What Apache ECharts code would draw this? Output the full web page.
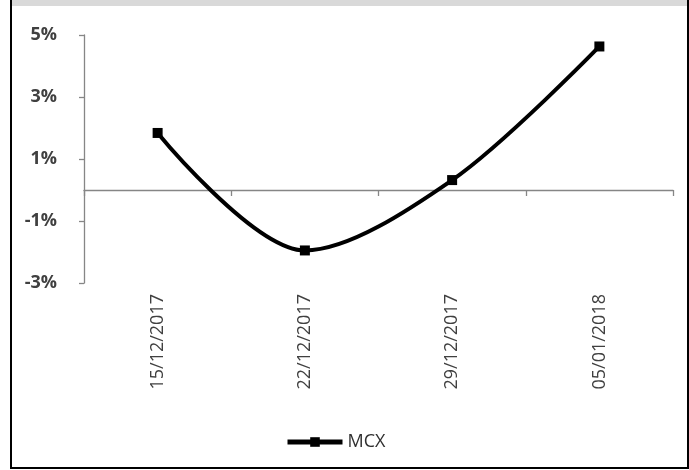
<!DOCTYPE html>
<html>
<head>
<meta charset="utf-8">
<script src="https://cdn.jsdelivr.net/npm/echarts@6/dist/echarts.min.js"></script>
<style>
html,body{margin:0;padding:0;background:#fff;}
#c{width:689px;height:470px;}
</style>
</head>
<body>
<div id="c"></div>
<script>
var categories = ['15/12/2017', '22/12/2017', '29/12/2017', '05/01/2018'];
var seriesName = 'MCX';
var mcxValues = [1.84, -1.95, 0.32, 4.63];
var yMin = -3, yMax = 5, yInterval = 2;

var chart = echarts.init(document.getElementById('c'), null, {renderer: 'canvas'});
var FONT = '"Open Sans", "Noto Sans", sans-serif';
var AXIS = '#868686';
var TXT = '#404040';

chart.setOption({
  animation: false,
  backgroundColor: '#ffffff',
  grid: {left: 84, right: 16, top: 35, bottom: 187, containLabel: false},
  legend: {
    data: [seriesName],
    left: 285, top: 433,
    itemWidth: 55, itemHeight: 12, itemGap: 10,
    lineStyle: {width: 5},
    textStyle: {fontFamily: FONT, fontSize: 18, color: '#303030', padding: [0,0,0,0]},
    padding: 0
  },
  graphic: [
    {type: 'rect', shape: {x: 12, y: 0, width: 675, height: 6}, style: {fill: '#d9d9d9'}, silent: true, z: 100},
    {type: 'rect', shape: {x: 10, y: 0, width: 2, height: 469}, style: {fill: '#000'}, silent: true, z: 101},
    {type: 'rect', shape: {x: 687, y: 0, width: 2, height: 469}, style: {fill: '#000'}, silent: true, z: 101},
    {type: 'rect', shape: {x: 10, y: 467, width: 679, height: 2}, style: {fill: '#000'}, silent: true, z: 101}
  ],
  xAxis: [
    {
      type: 'category', data: categories, boundaryGap: true,
      axisLine: {show: true, onZero: true, lineStyle: {color: AXIS, width: 1.3}},
      axisTick: {show: true, interval: 0, length: 6, lineStyle: {color: AXIS, width: 1.3}},
      axisLabel: {show: false},
      splitLine: {show: false}
    },
    {
      type: 'category', data: categories, boundaryGap: true, position: 'bottom',
      axisLine: {show: false, onZero: false},
      axisTick: {show: false},
      axisLabel: {show: true, interval: 0, rotate: 90, margin: 11, fontFamily: FONT, fontSize: 18, color: TXT},
      splitLine: {show: false}
    }
  ],
  yAxis: {
    type: 'value', min: yMin, max: yMax, interval: yInterval,
    axisLine: {show: true, lineStyle: {color: AXIS, width: 1.3}},
    axisTick: {show: true, length: 5, lineStyle: {color: AXIS, width: 1.3}},
    axisLabel: {formatter: '{value}%', margin: 27, fontFamily: FONT, fontSize: 18, fontWeight: 'bold', color: TXT},
    splitLine: {show: false}
  },
  series: [{
    name: seriesName, type: 'line', xAxisIndex: 0, data: mcxValues,
    smooth: 0.32,
    symbol: 'rect', symbolSize: 10, showSymbol: true,
    lineStyle: {color: '#000', width: 4},
    itemStyle: {color: '#000'}
  }]
});
</script>
</body>
</html>
